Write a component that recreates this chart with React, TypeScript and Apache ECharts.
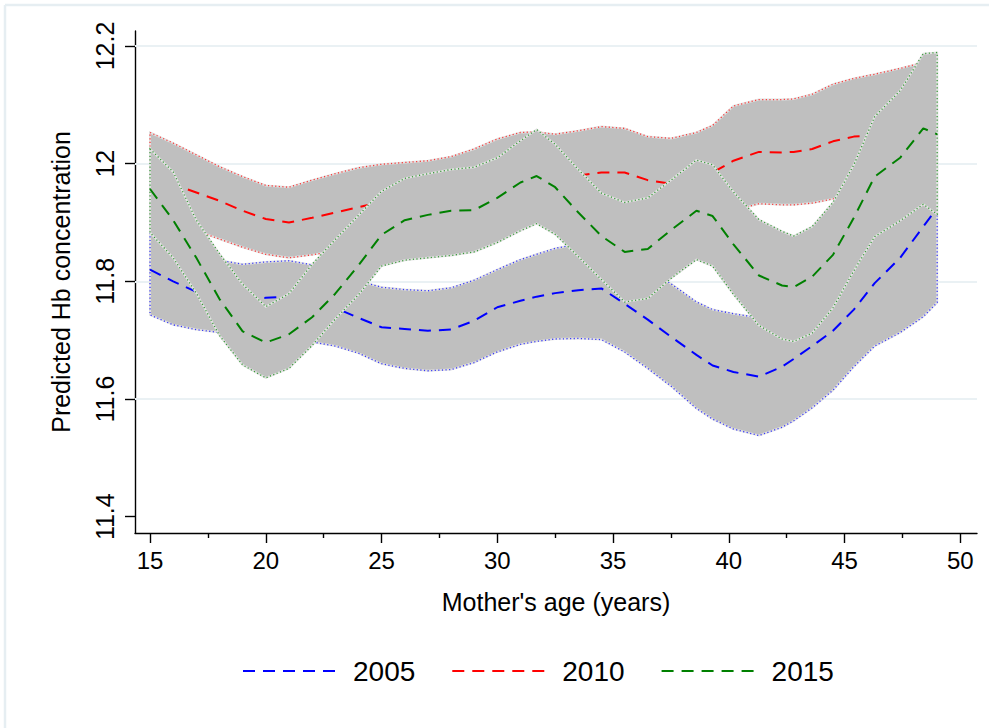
import React, { useEffect, useRef } from "react";
import * as echarts from "echarts";

// Mother's age (years) at which predictions are drawn
const ages = [15, 16, 17, 18, 19, 20, 21, 22, 23, 24, 25, 26, 27, 28, 29, 30, 31, 31.7, 32.5, 33.5, 34.5, 35.5, 36.5, 37.5, 38.6, 39.3, 40.2, 41.3, 42.3, 42.8, 43.6, 44.5, 45.4, 46.3, 47.4, 48.4, 49];

// 2005
const mean2005 = [11.82, 11.8, 11.782, 11.775, 11.77, 11.772, 11.774, 11.765, 11.755, 11.738, 11.722, 11.719, 11.716, 11.718, 11.733, 11.756, 11.767, 11.774, 11.78, 11.785, 11.788, 11.762, 11.735, 11.706, 11.675, 11.657, 11.646, 11.638, 11.655, 11.668, 11.69, 11.716, 11.752, 11.797, 11.84, 11.893, 11.925];
const upper2005 = [11.883, 11.865, 11.848, 11.836, 11.829, 11.833, 11.835, 11.828, 11.815, 11.801, 11.79, 11.786, 11.784, 11.789, 11.802, 11.82, 11.837, 11.846, 11.856, 11.864, 11.866, 11.845, 11.82, 11.796, 11.765, 11.752, 11.745, 11.738, 11.75, 11.76, 11.78, 11.81, 11.85, 11.9, 11.96, 12.03, 12.08];
const lower2005 = [11.743, 11.726, 11.718, 11.713, 11.708, 11.705, 11.7, 11.697, 11.69, 11.678, 11.66, 11.652, 11.648, 11.65, 11.662, 11.68, 11.693, 11.698, 11.702, 11.703, 11.701, 11.68, 11.652, 11.622, 11.584, 11.566, 11.549, 11.538, 11.552, 11.563, 11.585, 11.615, 11.655, 11.69, 11.713, 11.74, 11.764];

// 2010
const mean2010 = [11.978, 11.965, 11.951, 11.937, 11.92, 11.906, 11.9, 11.908, 11.917, 11.926, 11.935, 11.945, 11.955, 11.962, 11.967, 11.972, 11.975, 11.977, 11.978, 11.98, 11.985, 11.985, 11.972, 11.966, 11.975, 11.985, 12.005, 12.02, 12.019, 12.02, 12.025, 12.038, 12.046, 12.048, 12.05, 12.052, 12.053];
const upper2010 = [12.053, 12.035, 12.015, 11.995, 11.978, 11.963, 11.96, 11.972, 11.983, 11.993, 11.999, 12.002, 12.005, 12.012, 12.025, 12.042, 12.053, 12.054, 12.05, 12.056, 12.063, 12.06, 12.046, 12.043, 12.053, 12.065, 12.098, 12.109, 12.109, 12.11, 12.118, 12.135, 12.145, 12.152, 12.162, 12.172, 12.18];
const lower2010 = [11.905, 11.895, 11.886, 11.872, 11.858, 11.846, 11.84, 11.845, 11.852, 11.86, 11.868, 11.876, 11.884, 11.89, 11.895, 11.9, 11.9, 11.9, 11.905, 11.905, 11.907, 11.905, 11.9, 11.893, 11.897, 11.905, 11.92, 11.932, 11.93, 11.93, 11.933, 11.94, 11.945, 11.94, 11.935, 11.93, 11.925];

// 2015
const mean2015 = [11.957, 11.904, 11.84, 11.77, 11.715, 11.696, 11.71, 11.739, 11.779, 11.827, 11.879, 11.904, 11.913, 11.92, 11.921, 11.942, 11.968, 11.979, 11.96, 11.917, 11.877, 11.85, 11.855, 11.887, 11.92, 11.911, 11.863, 11.81, 11.793, 11.79, 11.808, 11.845, 11.908, 11.978, 12.01, 12.06, 12.05];
const upper2015 = [12.025, 11.986, 11.904, 11.847, 11.795, 11.757, 11.779, 11.829, 11.871, 11.912, 11.953, 11.975, 11.983, 11.99, 11.994, 12.01, 12.039, 12.058, 12.033, 11.99, 11.95, 11.934, 11.942, 11.972, 12.006, 11.998, 11.952, 11.905, 11.885, 11.877, 11.893, 11.934, 11.998, 12.08, 12.124, 12.187, 12.189];
const lower2015 = [11.883, 11.84, 11.78, 11.708, 11.658, 11.636, 11.652, 11.691, 11.736, 11.777, 11.826, 11.836, 11.84, 11.844, 11.85, 11.866, 11.886, 11.898, 11.88, 11.842, 11.803, 11.765, 11.771, 11.805, 11.837, 11.826, 11.778, 11.725, 11.702, 11.698, 11.712, 11.755, 11.818, 11.876, 11.903, 11.931, 11.914];

const xMajorTicks = [15, 20, 25, 30, 35, 40, 45, 50];
const xMinorTicks = [17.5, 22.5, 27.5, 32.5, 37.5, 42.5, 47.5];
const yTicks = [11.4, 11.6, 11.8, 12, 12.2];
const yGridLines = [11.6, 11.8, 12, 12.2];

const FONT = "'Liberation Sans', Arial, Helvetica, sans-serif";
const BLUE = "#0000ff";
const RED = "#ff0000";
const GREEN = "#008000";
const BAND = "#bfbfbf";
const DASH = [12, 8];

function bandSeries(name: string, lower: number[], upper: number[], color: string, z: number) {
  return {
    type: "custom",
    name,
    z,
    silent: true,
    xAxisIndex: 0,
    yAxisIndex: 0,
    data: ages.map((a, i) => [a, lower[i], upper[i]]),
    encode: { x: 0, y: [1, 2] },
    renderItem: (params: any, api: any) => {
      if (params.dataIndex !== 0) return null;
      const up = ages.map((a, i) => api.coord([a, upper[i]]));
      const lo = ages.map((a, i) => api.coord([a, lower[i]])).reverse();
      const pts = up.concat(lo);
      return {
        type: "group",
        children: [
          {
            type: "polygon",
            shape: { points: pts },
            style: { fill: BAND, stroke: "#e2e2e2", lineWidth: 2 },
          },
          {
            type: "polygon",
            shape: { points: pts },
            style: { fill: null, stroke: color, lineWidth: 1.3, lineDash: [1.2, 2.4], opacity: 0.75 },
          },
        ],
      };
    },
  };
}

function lineSeries(name: string, values: number[], color: string, z: number) {
  return {
    type: "line",
    name,
    z,
    silent: true,
    xAxisIndex: 0,
    yAxisIndex: 0,
    data: ages.map((a, i) => [a, values[i]]),
    symbol: "none",
    showSymbol: false,
    itemStyle: { color },
    lineStyle: { color, width: 2, type: DASH },
  };
}

export default function App() {
  const ref = useRef<HTMLDivElement>(null);
  useEffect(() => {
    if (!ref.current) return;
    const chart = echarts.init(ref.current, null, { renderer: "svg" });
    const xMin = 14.351;
    const xMax = 50.72;
    chart.setOption({
      animation: false,
      backgroundColor: "#ffffff",
      textStyle: { fontFamily: FONT },
      grid: { left: 135, top: 31, right: 12, bottom: 195, containLabel: false },
      graphic: [
        { type: "line", shape: { x1: 5, y1: 5, x2: 989, y2: 5 }, style: { stroke: "#e6eef2", lineWidth: 2.5 }, silent: true },
        { type: "line", shape: { x1: 5, y1: 5, x2: 5, y2: 728 }, style: { stroke: "#e6eef2", lineWidth: 2.5 }, silent: true },
      ],
      xAxis: [
        {
          type: "value",
          min: xMin,
          max: xMax,
          position: "bottom",
          name: "Mother's age (years)",
          nameLocation: "middle",
          nameGap: 56,
          nameTextStyle: { fontSize: 25, color: "#000", fontFamily: FONT },
          axisLine: { show: true, lineStyle: { color: "#000", width: 1.4 } },
          axisTick: { show: true, length: 10, lineStyle: { color: "#000", width: 1.4 }, customValues: xMajorTicks },
          axisLabel: { show: true, fontSize: 24, color: "#000", margin: 15, fontFamily: FONT, customValues: xMajorTicks },
          splitLine: { show: false },
        },
        {
          type: "value",
          min: xMin,
          max: xMax,
          position: "bottom",
          axisLine: { show: false },
          axisTick: { show: true, length: 5, lineStyle: { color: "#000", width: 1.4 }, customValues: xMinorTicks },
          axisLabel: { show: false },
          splitLine: { show: false },
        },
      ],
      yAxis: {
        type: "value",
        min: 11.3723,
        max: 12.2255,
        name: "Predicted Hb concentration",
        nameLocation: "middle",
        nameGap: 62,
        nameTextStyle: { fontSize: 25, color: "#000", fontFamily: FONT },
        axisLine: { show: true, lineStyle: { color: "#000", width: 1.4 } },
        axisTick: { show: true, length: 10, lineStyle: { color: "#000", width: 1.4 }, customValues: yTicks },
        axisLabel: {
          show: true,
          rotate: 90,
          fontSize: 25,
          color: "#000",
          margin: 18,
          fontFamily: FONT,
          customValues: yTicks,
          formatter: (v: number) => String(+Number(v).toFixed(1)),
        },
        splitLine: { show: false },
      },
      legend: {
        show: true,
        left: 237,
        top: 652,
        itemWidth: 96,
        itemHeight: 20,
        itemGap: 36,
        selectedMode: false,
        itemStyle: { opacity: 0 },
        lineStyle: { width: 2, type: DASH },
        data: ["2005", "2010", "2015"],
        textStyle: { fontSize: 28, color: "#000", fontFamily: FONT, padding: [0, 0, 0, 9] },
      },
      series: [
        {
          type: "line",
          name: "gridlines",
          z: 1,
          silent: true,
          data: [],
          symbol: "none",
          markLine: {
            z: 1,
            silent: true,
            symbol: "none",
            label: { show: false },
            lineStyle: { color: "#eaf1f4", width: 2, type: "solid" },
            data: yGridLines.map((v) => ({ yAxis: v })),
          },
        },
        bandSeries("band2005", lower2005, upper2005, BLUE, 2),
        lineSeries("2005", mean2005, BLUE, 3),
        bandSeries("band2010", lower2010, upper2010, RED, 4),
        lineSeries("2010", mean2010, RED, 5),
        bandSeries("band2015", lower2015, upper2015, GREEN, 6),
        lineSeries("2015", mean2015, GREEN, 7),
      ],
    });
    return () => chart.dispose();
  }, []);
  return (
    <div
      ref={ref}
      style={{ position: "absolute", left: 0, top: 0, width: 989, height: 728, background: "#fff" }}
    />
  );
}
